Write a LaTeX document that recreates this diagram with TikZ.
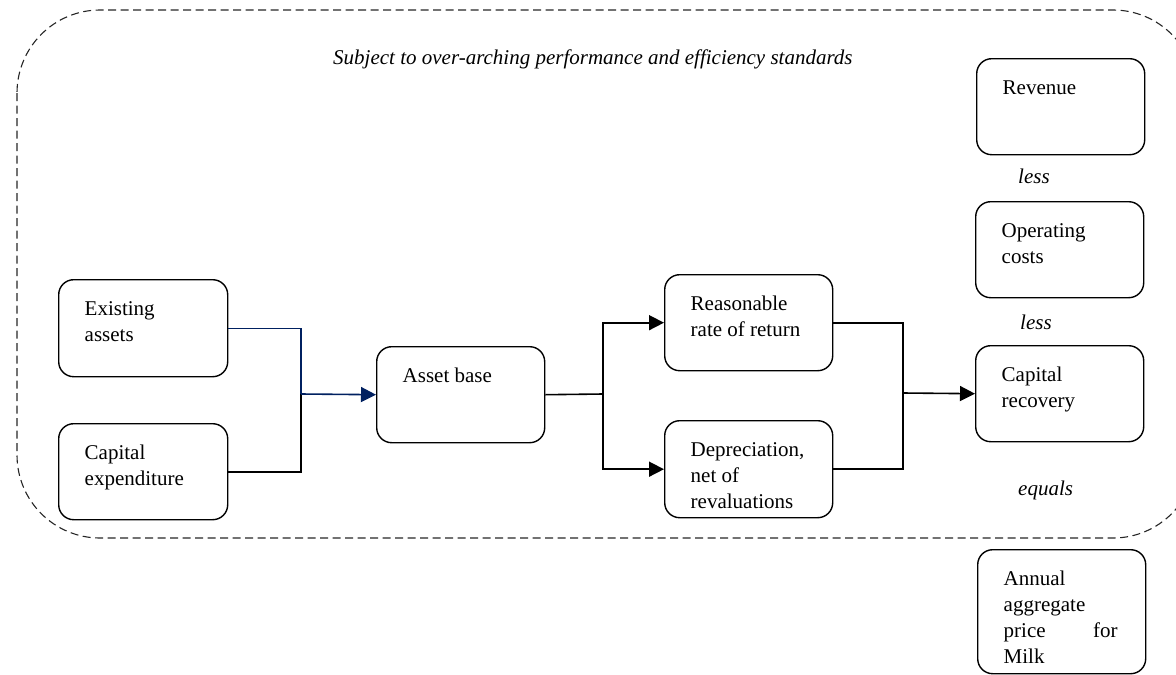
\documentclass[tikz,border=0pt]{standalone}
\usepackage{fontspec}
\setmainfont{Liberation Serif}
\usetikzlibrary{arrows.meta}
\definecolor{navyline}{HTML}{002060}
\newcommand{\bxt}[3]{\parbox[t][#2][t]{#1}{\parindent=0pt\leftskip=26pt\rightskip=0pt plus 1fil\vspace*{18pt}\strut#3}}
\begin{document}
\begin{tikzpicture}[x=1pt,y=-1pt,
  bx/.style={draw, line width=1.4pt, rounded corners=15pt, inner sep=0pt, anchor=north west, font=\fontsize{21}{26}\selectfont},
  itl/.style={anchor=base west, inner sep=0pt, font=\fontsize{21}{26}\selectfont\itshape},
  conn/.style={line width=1.6pt},
  arr/.style={conn, -{Triangle[length=15pt,width=15pt]}},
  frame/.style={draw=black!85, line width=1.1pt, dash pattern=on 8pt off 4.5pt, rounded corners=83pt}]
\useasboundingbox (0,0) rectangle (1176,675);
\clip (0,0) rectangle (1176,675);
\draw[frame] (17,10) rectangle (1196,538);
\node[itl] (subj) at (333,64) {Subject to over-arching performance and efficiency standards};
\node[bx] (ea) at (58,279) {\bxt{169pt}{97pt}{Existing\\assets}};
\node[bx] (ce) at (58,423) {\bxt{169pt}{96pt}{Capital\\expenditure}};
\node[bx] (ab) at (376,346) {\bxt{168pt}{96pt}{Asset base}};
\node[bx] (rr) at (664,274) {\bxt{168pt}{96pt}{Reasonable\\rate of return}};
\node[bx] (dp) at (664,420) {\bxt{168pt}{97pt}{Depreciation,\\net of\\revaluations}};
\node[bx] (rev) at (976,58) {\bxt{168pt}{96pt}{Revenue}};
\node[bx] (oc) at (975,201) {\bxt{168pt}{96pt}{Operating\\costs}};
\node[bx] (cr) at (975,345) {\bxt{168pt}{96pt}{Capital\\recovery}};
\node[bx] (an) at (977,549) {\bxt{168pt}{124pt}{Annual\\aggregate\\\makebox[114pt][s]{price\hfill for}\\Milk}};
\node[itl] (less1) at (1018,183) {less};
\node[itl] (less2) at (1020,329) {less};
\node[itl] (eq) at (1018,495) {equals};
\coordinate (j1) at (301,394);
\coordinate (j2) at (603,394);
\coordinate (j3) at (903,393);
\draw[conn, navyline, line width=1.3pt] (ea.east) -| (j1);
\draw[conn] (ce.east) -| (j1);
\draw[arr, navyline] (j1) -- (ab.west);
\draw[conn] (ab.east) -- (j2);
\draw[arr] (j2) |- (rr.west);
\draw[arr] (j2) |- (dp.west);
\draw[conn] (rr.east) -| (j3);
\draw[conn] (dp.east) -| (j3);
\draw[arr] (j3) -- (cr.west);
\end{tikzpicture}
\end{document}
